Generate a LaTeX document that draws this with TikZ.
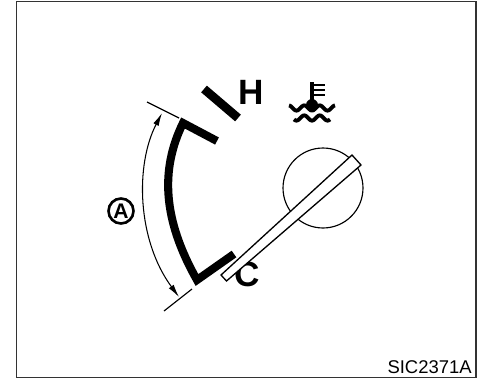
\documentclass[tikz,border=0pt]{standalone}
\usepackage{fontspec}
\setmainfont{Liberation Sans}
\usetikzlibrary{arrows.meta}
\definecolor{darkline}{HTML}{000000}
\definecolor{frameline}{HTML}{333333}
\tikzset{
  frame/.style={draw=frameline, line width=1pt},
  band/.style={draw=darkline, line width=4.6pt, line join=miter},
  tickmark/.style={draw=darkline, line width=5pt},
  dimline/.style={draw=darkline, line width=0.65pt},
  dimflow/.style={{Latex[length=2.6mm,width=1.2mm]}-{Latex[length=2.6mm,width=1.2mm]}, draw=darkline, line width=0.6pt},
  dial/.style={circle, draw=darkline, line width=0.65pt, minimum size=1.6cm, inner sep=0pt},
  needle/.style={draw=darkline, fill=white, line width=0.75pt},
  scale-label/.style={font=\fontsize{20}{20}\selectfont\bfseries, text=darkline, inner sep=0pt},
  circled/.style={circle, draw=darkline, line width=1.5pt, minimum size=0.5cm, inner sep=0pt, font=\fontsize{12}{12}\selectfont\bfseries},
  icon/.style={draw=darkline, line width=2.2pt},
  code-label/.style={font=\fontsize{10.5}{10.5}\selectfont, text=darkline, inner sep=0pt, anchor=south east}
}

\begin{document}
\begin{tikzpicture}[x=0.02cm, y=-0.02cm]

\useasboundingbox (0,0) rectangle (480,379);
\draw[frame] (16.5,1.5) rectangle (476,377.5);

% gauge scale
\coordinate (hotA) at (204,89);
\coordinate (hotB) at (238,118);
\coordinate (topEnd) at (217,141);
\coordinate (topCorner) at (183,123);
\coordinate (lowCorner) at (197,280);
\coordinate (lowEnd) at (234,254);
\draw[tickmark] (hotA) -- (hotB);
\draw[band] (topEnd) -- (topCorner) .. controls (160,170) and (163,220) .. (lowCorner) -- (lowEnd);

% range of the scale
\coordinate (dimTopA) at (147,102);
\coordinate (dimTopB) at (179,118);
\coordinate (dimLowA) at (164,311);
\coordinate (dimLowB) at (192,289);
\coordinate (dimTop) at (162,113);
\coordinate (dimLow) at (179,297);
\draw[dimline] (dimTopA) -- (dimTopB);
\draw[dimline] (dimLowA) -- (dimLowB);
\draw[dimflow] (dimTop) .. controls (135,165) and (137,240) .. (dimLow);
\node[circled] (range) at (121,211) {A};

\node[scale-label] (hot) at (251,92) {H};
\node[scale-label] (cold) at (247,274) {C};

% temperature icon
\coordinate (stemTop) at (312,82);
\coordinate (stemLow) at (312,105);
\draw[icon, line width=2.8pt] (stemTop) -- (stemLow);
\foreach \y in {85,90,95}
  \draw[icon, line width=1.7pt] (312,\y) -- (325,\y);
\fill[darkline] (stemLow) circle (6);
\draw[icon] plot[domain=289:335, samples=50, smooth] (\x, {108+2.6*cos(360*(\x-312)/15.5)});
\draw[icon] plot[domain=294:330, samples=50, smooth] (\x, {118+2.6*cos(360*(\x-312)/15.5)});

% dial and pointer
\node[dial] (dial) at (323,188) {};
\coordinate (needleA) at (221,275);
\coordinate (needleB) at (226.5,281);
\coordinate (needleC) at (361,165);
\coordinate (needleD) at (352,155);
\draw[needle] (needleA) -- (needleB) -- (needleC) -- (needleD) -- cycle;

\node[code-label] (code) at (472,374) {SIC2371A};

\end{tikzpicture}
\end{document}
